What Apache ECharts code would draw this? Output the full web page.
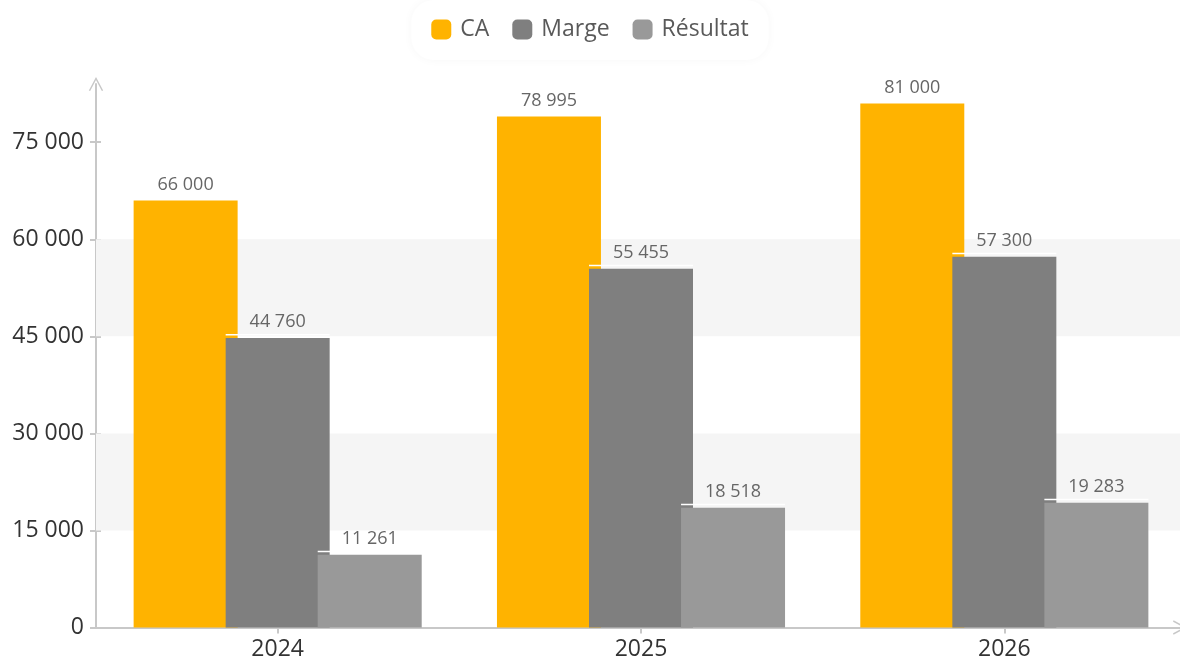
<!DOCTYPE html>
<html>
<head>
<meta charset="utf-8">
<script src="https://cdn.jsdelivr.net/npm/echarts@6/dist/echarts.min.js"></script>
<style>
  html, body { margin: 0; padding: 0; background: #ffffff; }
  #chart { width: 1180px; height: 666px; }
</style>
</head>
<body>
<div id="chart"></div>
<script>
// Yearly figures
const years = ['2024', '2025', '2026'];
const seriesNames = ['CA', 'Marge', 'Résultat'];
const caValues = [66000, 78995, 81000];
const margeValues = [44760, 55455, 57300];
const resultatValues = [11261, 18518, 19283];
const yTicks = [0, 15000, 30000, 45000, 60000, 75000];
const shadedBands = [[15000, 30000], [45000, 60000]];

const colors = ['#ffb300', '#7f7f7f', '#999999'];
const FONT = "'Open Sans', 'DejaVu Sans', sans-serif";
const AXIS_COLOR = '#c8c8c8';
const BAR_WIDTH = 104;
const BAR_GAP = -0.115; // bars overlap slightly

const fmt = v => String(v).replace(/\B(?=(\d{3})+(?!\d))/g, ' ');

const chart = echarts.init(document.getElementById('chart'), null, { renderer: 'canvas' });

const arrow = 'path://M0,14 L7.5,0 L15,14 L13.6,14.6 L7.5,3.2 L1.4,14.6 Z';

const allValues = [caValues, margeValues, resultatValues];

const barSeries = seriesNames.map((name, i) => ({
  name,
  type: 'bar',
  data: allValues[i],
  barWidth: BAR_WIDTH,
  barGap: (BAR_GAP * 100) + '%',
  itemStyle: { color: colors[i] },
  label: {
    show: true,
    position: 'top',
    distance: 7,
    color: '#666666',
    fontFamily: FONT,
    fontSize: 18,
    formatter: p => fmt(p.value)
  },
  emphasis: { disabled: true },
  z: 2
}));

// light bands behind the bars
barSeries[0].markArea = {
  silent: true,
  itemStyle: { color: '#f5f5f5' },
  label: { show: false },
  data: shadedBands.map(b => [{ yAxis: b[0] }, { yAxis: b[1] }])
};

// thin white edge just above each bar top
const edgeData = [];
allValues.forEach((arr, s) => arr.forEach((v, c) => edgeData.push([c, v, s])));

const edgeSeries = {
  type: 'custom',
  silent: true,
  z: 3,
  data: edgeData,
  encode: { x: 0, y: 1 },
  renderItem: (params, api) => {
    const pt = api.coord([api.value(0), api.value(1)]);
    const step = BAR_WIDTH * (1 + BAR_GAP);
    const cx = pt[0] + (api.value(2) - 1) * step;
    return {
      type: 'rect',
      shape: { x: cx - BAR_WIDTH / 2, y: pt[1] - 4, width: BAR_WIDTH, height: 1.6 },
      style: { fill: '#ffffff' }
    };
  }
};

const option = {
  animation: false,
  backgroundColor: '#ffffff',
  textStyle: { fontFamily: FONT },
  legend: {
    data: seriesNames,
    top: 0,
    left: 'center',
    padding: [18, 20, 19, 20],
    itemWidth: 20,
    itemHeight: 20,
    itemGap: 23,
    icon: 'roundRect',
    backgroundColor: '#ffffff',
    borderRadius: 22,
    shadowBlur: 10,
    shadowColor: 'rgba(0,0,0,0.035)',
    textStyle: { color: '#595959', fontSize: 23, fontFamily: FONT, padding: [0, 0, 0, 4] }
  },
  grid: {
    left: 96, right: -6, top: 84, bottom: 38.5,
    containLabel: false,
    outerBoundsMode: 'none'
  },
  xAxis: [{
    type: 'category',
    data: years,
    boundaryGap: true,
    axisLine: {
      show: true,
      lineStyle: { color: AXIS_COLOR, width: 2 },
      symbol: ['none', arrow],
      symbolSize: [15, 14],
      symbolOffset: [0, -6]
    },
    axisTick: { show: true, alignWithLabel: true, length: 6, lineStyle: { color: AXIS_COLOR, width: 2 } },
    axisLabel: { color: '#333333', fontSize: 23, fontFamily: FONT, margin: 10 },
    splitLine: { show: false }
  }, {
    type: 'category',
    data: years,
    position: 'bottom',
    boundaryGap: true,
    axisLine: { show: false },
    axisTick: { show: true, inside: true, alignWithLabel: true, length: 5, lineStyle: { color: AXIS_COLOR, width: 2 } },
    axisLabel: { show: false },
    splitLine: { show: false }
  }],
  yAxis: [{
    type: 'value',
    min: 0,
    max: 84000,
    interval: 15000,
    axisLine: {
      show: true,
      lineStyle: { color: AXIS_COLOR, width: 2 },
      symbol: ['none', arrow],
      symbolSize: [15, 14]
    },
    axisTick: { show: true, length: 6, customValues: yTicks, lineStyle: { color: AXIS_COLOR, width: 2 } },
    axisLabel: {
      color: '#333333', fontSize: 23, fontFamily: FONT, margin: 12,
      customValues: yTicks,
      formatter: v => fmt(v)
    },
    splitLine: { show: false },
    splitArea: { show: false }
  }, {
    type: 'value',
    position: 'left',
    min: 0,
    max: 84000,
    interval: 15000,
    axisLine: { show: false },
    axisTick: { show: true, inside: true, length: 5, customValues: yTicks, lineStyle: { color: AXIS_COLOR, width: 2 } },
    axisLabel: { show: false },
    splitLine: { show: false }
  }],
  series: [...barSeries, edgeSeries]
};

chart.setOption(option);
</script>
</body>
</html>
